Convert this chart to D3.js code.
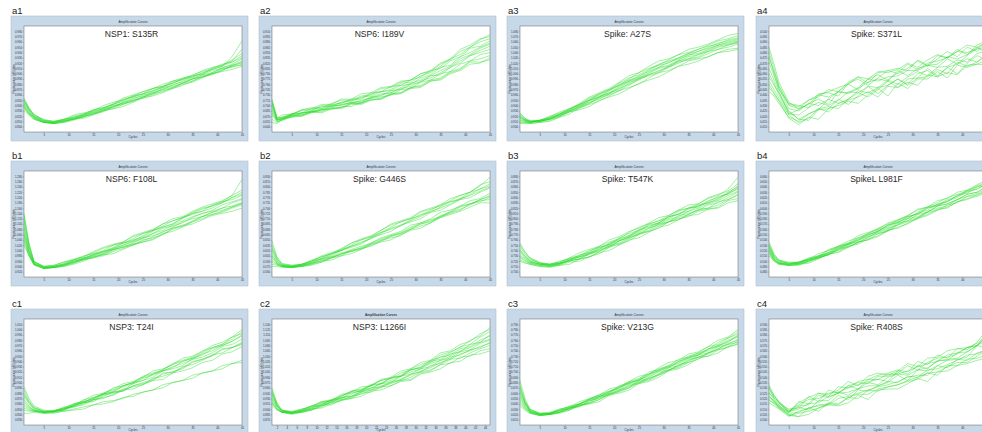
<!DOCTYPE html>
<html>
<head>
<meta charset="utf-8">
<script src="https://cdn.jsdelivr.net/npm/d3@7"></script>
<style>
  body { margin: 0; background: #ffffff; }
  svg { display: block; font-family: "Liberation Sans", Arial, sans-serif; }
</style>
</head>
<body>
<svg id="chart" width="982" height="432"></svg>
<script>
// Cycle numbers at which each well's fluorescence is listed
const cycles = [1, 2, 3, 5, 7, 9, 11, 13, 15, 17, 19, 21, 23, 25, 27, 29, 31, 33, 35, 37, 39, 41, 43, 45];

const panelIds = ["a1", "a2", "a3", "a4", "b1", "b2", "b3", "b4", "c1", "c2", "c3", "c4"];
const panelTitles = ["NSP1: S135R", "NSP6: I189V", "Spike: A27S", "Spike: S371L",
                     "NSP6: F108L", "Spike: G446S", "Spike: T547K", "SpikeL L981F",
                     "NSP3: T24I", "NSP3: L1266I", "Spike: V213G", "Spike: R408S"];

// Fluorescence per well (relative units, one string per well, one value per listed cycle)
const curvesA1 = [
  "31 22 16 11 9 11 14 16 20 22 26 29 33 36 39 43 46 50 52 56 59 62 66 72",
  "24 18 13 9 9 10 12 15 17 19 24 27 29 33 37 40 42 46 50 52 55 59 62 66",
  "28 21 15 11 10 12 14 16 21 23 26 30 34 36 39 42 47 49 52 55 59 62 71 86",
  "22 17 12 9 8 9 12 13 16 20 22 24 28 32 34 37 41 45 47 51 55 57 59 62",
  "30 21 15 10 9 12 13 17 19 22 27 32 35 38 41 45 48 50 54 57 60 64 66 70",
  "26 19 14 10 8 9 11 15 17 20 22 26 30 32 35 39 41 44 48 52 54 58 63 65",
  "29 22 17 11 10 12 16 18 20 25 28 30 34 38 41 43 48 51 53 58 61 63 68 74",
  "25 18 14 9 9 11 12 14 18 21 23 28 30 33 36 41 43 46 50 52 56 60 61 64",
  "32 23 16 12 10 11 15 17 21 23 26 31 33 36 41 43 46 50 53 55 60 63 67 78",
  "23 17 13 9 8 10 12 16 18 20 25 27 31 35 37 40 45 47 50 54 56 61 63 67",
  "27 20 14 10 9 10 13 15 19 22 24 28 32 34 38 42 44 48 51 54 58 60 64 69",
  "20 16 12 9 8 10 13 14 17 21 24 26 29 33 36 38 42 46 48 53 55 58 62 63"
];
const curvesA2 = [
  "30 13 14 17 20 21 24 25 28 30 31 36 38 40 46 47 53 56 62 69 73 80 85 88",
  "18 10 11 14 15 18 21 21 24 24 28 30 32 36 37 42 44 49 51 57 60 67 69 72",
  "26 13 16 17 21 23 23 27 30 30 34 35 41 42 47 49 55 57 64 68 76 80 87 92",
  "12 9 11 15 16 19 21 22 23 27 27 32 33 35 40 41 47 49 55 57 64 67 73 75",
  "31 14 13 17 18 20 25 24 28 29 33 34 38 39 44 45 51 54 61 63 71 75 80 84",
  "22 11 13 14 18 19 20 25 25 28 28 33 34 39 40 45 47 53 54 61 65 72 75 78",
  "9 8 12 17 18 22 22 26 27 31 32 37 38 43 44 49 52 58 60 67 71 79 81 86",
  "27 12 12 16 16 19 19 23 23 27 27 31 31 36 37 42 43 48 50 56 59 66 66 68",
  "20 11 14 16 21 22 26 26 31 31 36 37 42 43 48 49 55 58 65 69 78 82 88 90",
  "24 12 12 15 15 19 18 22 22 26 26 30 31 35 36 41 42 48 49 55 58 64 65 70",
  "16 10 12 15 17 20 21 23 26 27 30 32 35 37 41 43 48 51 56 61 67 72 77 81",
  "28 12 13 16 18 19 22 24 26 28 29 33 36 37 42 46 49 53 58 62 69 73 79 83"
];
const curvesA3 = [
  "16 12 10 11 13 17 22 26 30 36 40 44 50 56 60 63 68 73 75 78 82 86 88 91",
  "10 9 9 10 12 16 19 22 27 32 35 39 44 50 53 56 61 66 68 70 74 78 80 83",
  "14 12 10 11 15 18 21 26 32 36 40 46 51 54 59 64 67 70 74 78 81 83 87 89",
  "8 8 8 9 11 14 17 23 26 29 34 39 42 45 51 56 58 62 67 69 71 75 78 79",
  "17 13 10 10 13 16 21 26 30 33 39 45 49 52 58 63 65 70 74 76 80 84 86 88",
  "12 10 9 11 12 15 20 24 27 33 37 40 46 51 54 57 62 67 69 71 76 80 82 85",
  "15 11 9 11 14 19 22 27 33 37 41 47 53 56 62 67 69 73 78 80 83 87 91 93",
  "9 9 8 9 10 14 19 21 24 30 33 36 41 46 49 52 57 62 64 67 71 75 76 78",
  "13 11 10 10 13 16 20 24 30 34 37 43 48 51 56 61 63 68 73 74 78 82 84 86",
  "11 10 9 10 12 17 20 23 29 33 36 42 47 50 55 60 62 67 71 73 77 81 83 85",
  "14 11 10 10 12 15 19 25 28 31 36 41 45 49 54 58 61 65 69 73 76 78 82 84",
  "18 13 11 11 14 17 22 25 31 35 39 44 48 53 57 61 66 69 72 76 79 82 85 87"
];
const curvesA4 = [
  "80 64 47 28 22 30 33 40 38 47 52 46 56 58 60 58 68 63 72 70 78 73 82 86",
  "45 37 30 16 9 13 22 19 27 30 33 38 33 43 42 47 44 54 52 56 54 63 64 68",
  "66 53 41 22 20 27 25 31 38 36 41 47 50 48 58 53 60 63 64 71 69 73 80 76",
  "38 34 27 14 10 17 22 24 22 31 37 33 40 48 42 50 51 52 59 55 66 62 66 74",
  "72 55 40 27 25 23 35 33 38 45 40 50 54 49 56 64 59 65 67 70 76 75 78 86",
  "52 44 37 20 12 17 21 31 27 31 39 37 42 44 50 45 55 58 52 61 64 69 66 72",
  "60 49 38 17 21 27 31 26 38 37 42 50 48 52 53 58 58 63 61 69 64 72 79 76",
  "42 36 29 13 7 14 12 22 25 29 27 35 41 34 46 41 50 50 57 51 63 61 64 63",
  "76 60 43 25 22 26 36 37 34 46 50 44 51 58 55 60 67 62 69 76 71 80 76 85",
  "55 46 35 19 12 11 21 22 31 26 34 43 36 44 50 44 51 60 53 61 55 65 72 68",
  "70 57 44 26 24 30 35 38 42 45 52 50 57 56 59 65 61 68 73 70 76 82 80 85",
  "48 40 32 17 16 23 28 25 30 38 37 43 42 49 45 52 57 53 61 62 68 66 74 77"
];
const curvesB1 = [
  "60 32 15 9 10 13 16 20 22 25 30 32 36 41 44 48 53 56 60 64 67 71 77 92",
  "30 20 12 8 9 11 14 16 20 24 26 28 32 37 39 42 47 52 55 57 61 65 67 70",
  "52 28 14 10 11 14 16 19 23 27 30 33 38 41 44 50 53 56 61 65 67 70 75 80",
  "38 22 12 9 9 11 13 17 19 21 25 29 31 34 38 43 46 48 53 57 59 61 65 68",
  "48 26 13 9 10 12 16 18 21 24 28 32 35 38 43 47 50 55 60 62 65 70 75 78",
  "35 21 12 8 9 10 12 15 19 21 22 26 30 33 35 40 45 48 50 54 58 60 62 65",
  "55 30 14 10 11 14 17 19 24 28 31 33 39 42 45 50 55 57 62 66 69 72 77 82",
  "42 24 13 9 9 11 14 18 20 22 26 30 33 36 41 46 48 51 56 60 62 65 70 73",
  "58 31 15 10 10 12 15 17 22 24 27 32 34 39 44 47 50 56 59 62 68 71 73 77",
  "40 23 12 8 9 11 15 17 18 22 26 28 30 35 37 40 46 49 52 57 61 63 66 70",
  "46 25 13 9 10 12 14 17 21 23 27 30 34 37 41 44 49 53 57 60 63 68 71 74",
  "33 20 11 8 9 10 13 16 18 20 24 27 31 33 36 41 43 47 52 55 59 62 66 69"
];
const curvesB2 = [
  "30 18 12 10 12 15 19 22 25 30 35 38 42 47 52 55 58 63 68 71 74 80 86 94",
  "14 12 10 9 10 12 14 18 22 24 26 31 35 38 41 45 50 53 56 61 66 69 71 75",
  "26 16 11 10 12 16 19 22 27 32 35 38 44 49 52 55 61 64 67 72 77 80 83 88",
  "10 10 9 9 10 11 14 18 20 22 26 30 33 35 40 44 46 51 56 59 62 66 70 70",
  "24 15 11 10 11 14 17 21 26 29 32 37 42 45 48 54 59 61 66 71 73 78 83 86",
  "18 13 10 9 11 13 15 19 23 25 27 32 36 39 42 47 51 54 57 62 67 69 73 76",
  "28 17 12 11 12 15 20 23 26 32 36 39 44 50 53 56 62 65 68 74 77 80 87 90",
  "12 11 10 9 10 13 15 16 20 25 27 29 34 37 39 45 48 51 57 60 63 69 72 73",
  "21 14 11 10 11 15 17 20 25 28 31 37 40 43 49 52 55 61 63 68 73 75 80 84",
  "16 12 10 9 11 13 17 19 21 26 29 32 37 40 43 49 51 55 61 63 67 72 74 79",
  "34 19 13 11 12 14 18 22 25 29 33 36 41 46 49 53 57 62 65 69 74 77 81 85",
  "20 13 10 10 10 12 16 18 22 24 28 31 34 39 41 46 50 52 58 61 64 68 73 77"
];
const curvesB3 = [
  "28 22 17 13 12 14 18 20 24 29 33 36 42 47 50 53 58 63 65 69 74 77 83 94",
  "16 14 12 10 10 12 15 17 19 24 29 31 36 41 43 48 52 54 59 63 65 68 73 77",
  "25 20 16 13 12 15 17 20 25 28 31 37 41 44 50 53 56 62 65 67 72 75 79 86",
  "18 15 13 11 10 11 12 17 19 22 28 31 34 40 43 46 52 55 57 62 64 66 72 74",
  "30 23 18 13 11 13 17 19 23 26 32 35 39 45 48 51 57 59 64 68 70 73 79 83",
  "20 17 14 12 11 13 15 17 22 25 28 34 37 40 46 49 52 58 60 63 68 70 75 80",
  "24 19 15 12 12 14 18 23 26 29 35 38 43 46 51 56 58 63 68 69 75 78 81 88",
  "15 13 12 10 9 11 14 15 19 23 25 30 35 37 42 47 49 54 58 59 64 65 70 72",
  "26 20 15 12 11 12 16 21 23 28 30 36 39 43 49 51 57 59 65 66 71 76 78 84",
  "19 16 13 11 10 12 16 17 22 24 30 32 37 41 44 50 52 56 59 64 65 71 73 78",
  "22 18 14 12 11 13 15 19 21 26 29 34 38 42 46 50 54 57 62 65 69 72 77 81",
  "32 24 18 14 12 13 16 19 22 27 31 34 38 44 47 51 55 60 62 67 70 74 80 85"
];
const curvesB4 = [
  "30 20 15 13 14 17 22 25 29 34 37 41 46 50 53 58 63 66 70 75 78 81 86 90",
  "24 16 13 11 12 15 18 21 27 29 32 38 41 44 50 53 56 62 65 67 73 76 79 83",
  "28 19 14 12 14 17 19 25 28 31 37 40 43 49 52 55 61 66 68 73 76 82 85 89",
  "22 15 12 11 12 13 17 22 23 28 33 35 38 44 47 50 56 59 64 65 71 74 76 80",
  "29 19 15 13 13 17 20 23 29 32 35 41 45 48 54 57 59 65 68 71 77 80 83 88",
  "25 17 13 12 13 15 19 21 26 31 33 37 43 46 49 55 57 61 67 69 73 78 80 85",
  "31 21 16 13 14 18 20 26 29 32 39 42 45 51 54 58 64 66 72 74 80 82 87 92",
  "23 16 13 11 11 15 18 21 26 28 33 35 41 43 49 52 55 61 63 68 70 76 77 82",
  "27 18 14 12 13 16 20 22 28 31 34 40 43 49 51 57 60 63 69 71 77 79 85 87",
  "26 17 13 12 13 16 18 23 25 30 35 38 42 45 51 53 59 61 67 69 73 78 80 86",
  "33 22 16 14 14 16 19 23 27 31 36 39 44 47 52 56 60 65 67 72 75 81 83 88",
  "20 15 12 11 12 14 18 21 24 29 31 36 39 44 46 51 55 58 63 66 71 73 78 81"
];
const curvesC1 = [
  "30 22 16 13 13 16 20 22 25 30 33 37 40 45 48 52 57 60 63 68 73 76 81 88",
  "14 13 13 12 12 13 15 17 19 22 23 25 29 31 33 38 40 42 47 49 51 56 58 61",
  "27 20 15 12 13 16 18 21 26 29 31 37 40 42 48 51 54 60 63 66 72 75 79 85",
  "20 16 14 12 13 14 19 21 23 28 30 32 37 39 42 48 50 53 59 62 65 71 73 78",
  "33 23 17 13 12 15 18 24 26 29 35 37 40 46 49 52 58 61 64 70 73 76 83 90",
  "11 11 12 11 11 13 14 15 19 20 22 26 27 31 33 35 40 42 44 49 51 53 58 59",
  "24 18 14 12 14 15 20 22 24 29 31 33 39 42 45 51 53 56 62 64 68 74 76 81",
  "18 15 13 12 13 16 17 19 24 26 28 33 34 38 42 43 49 51 54 59 61 67 69 74",
  "28 21 16 13 13 17 19 23 28 30 34 39 41 45 51 53 57 63 65 69 75 78 83 86",
  "22 17 14 12 13 14 18 21 22 27 31 32 37 40 43 49 50 54 60 62 66 72 73 77",
  "36 25 18 14 13 15 18 22 25 29 32 36 39 44 47 51 55 58 62 67 70 75 79 84",
  "16 14 13 11 12 14 17 20 24 25 29 34 36 38 44 46 49 55 57 61 66 68 73 76"
];
const curvesC2 = [
  "33 20 14 12 14 18 21 23 27 32 34 37 42 44 47 53 57 60 66 69 73 80 84 92",
  "22 15 12 11 13 15 17 22 24 26 31 33 35 40 42 45 50 52 57 62 63 68 72 75",
  "30 19 13 12 15 17 22 24 27 32 33 38 42 44 49 52 55 61 64 68 74 76 83 88",
  "18 14 12 11 12 15 16 20 23 25 27 32 33 37 41 42 48 50 53 59 60 66 67 70",
  "29 18 13 12 14 16 21 23 28 30 32 37 39 44 46 52 54 59 64 66 72 74 80 84",
  "25 17 13 11 13 17 18 22 26 27 31 35 36 41 43 48 50 56 58 64 66 71 73 78",
  "35 21 14 13 15 18 22 23 29 31 36 37 43 45 51 53 59 61 68 70 76 79 86 90",
  "20 15 12 10 12 14 19 19 24 25 30 31 36 37 42 43 49 51 57 58 64 65 70 72",
  "27 18 13 12 14 18 19 24 25 31 32 38 39 45 46 52 54 60 62 67 69 76 78 85",
  "24 16 12 11 13 15 20 21 26 27 32 34 39 40 46 48 53 55 61 63 69 71 77 80",
  "31 19 14 12 13 16 19 23 25 29 33 35 39 42 46 50 53 58 61 65 70 73 78 81",
  "21 15 12 11 12 14 18 21 23 27 29 33 37 39 43 47 51 54 59 62 67 70 74 77"
];
const curvesC3 = [
  "36 22 14 10 11 14 18 20 24 29 32 35 41 44 48 53 56 60 65 68 71 78 82 88",
  "24 17 12 9 10 12 15 19 21 24 29 32 35 41 43 48 52 55 61 64 67 72 76 78",
  "32 21 13 10 11 14 16 19 24 27 30 36 39 42 48 51 54 60 63 66 72 75 78 85",
  "20 15 11 9 10 11 14 18 20 22 28 30 33 39 41 45 51 53 57 63 65 68 74 76",
  "34 21 14 11 12 15 17 20 25 28 31 37 40 43 50 52 56 62 64 68 74 76 82 86",
  "28 19 13 10 11 13 17 18 22 27 29 33 38 40 45 50 52 56 62 64 68 74 76 81",
  "38 23 15 11 11 15 17 22 25 28 34 36 41 46 48 54 59 61 67 69 74 80 83 90",
  "22 16 12 9 10 12 14 19 20 24 29 31 35 40 42 47 52 54 59 64 65 71 73 77",
  "30 20 13 10 11 14 15 20 23 26 32 34 40 42 47 52 55 59 64 66 72 74 79 83",
  "26 18 12 10 10 12 16 17 23 25 30 33 36 42 44 48 54 56 60 66 68 72 77 80",
  "42 25 15 11 11 13 16 20 24 27 31 35 39 43 46 51 55 58 63 67 70 75 80 84",
  "18 14 11 9 10 12 16 18 21 26 28 32 37 39 44 47 51 57 59 62 68 71 74 79"
];
const curvesC4 = [
  "38 28 21 12 22 20 30 27 36 35 41 43 47 49 52 50 60 57 66 63 72 71 78 90",
  "24 20 16 9 8 16 13 21 20 26 25 33 32 36 38 41 43 49 47 56 56 62 63 66",
  "33 27 22 13 18 19 28 26 30 37 34 43 43 41 51 48 56 53 61 61 68 69 75 80",
  "21 18 15 8 13 16 19 20 28 24 33 32 37 41 40 46 45 52 53 57 61 66 67 71",
  "36 25 20 15 16 27 22 33 30 37 40 39 46 46 49 56 52 59 63 64 67 73 75 86",
  "27 23 17 12 17 14 23 23 31 28 34 37 37 40 47 42 52 51 56 61 62 64 75 72",
  "30 26 21 12 21 26 30 29 33 41 37 46 49 47 51 58 55 63 64 70 72 73 77 85",
  "23 21 16 10 8 10 16 19 18 21 28 24 33 34 34 39 44 41 50 51 56 58 61 63",
  "35 28 22 14 19 24 25 30 31 35 38 41 43 48 48 51 55 58 60 66 68 73 75 83",
  "28 22 17 11 12 16 18 19 25 27 30 33 36 38 41 45 47 47 56 54 62 61 68 71",
  "31 24 18 13 15 20 21 27 30 31 34 40 38 45 48 47 52 54 60 62 63 69 75 83",
  "26 22 19 9 11 13 16 20 19 26 29 29 34 36 38 42 45 49 50 55 59 59 65 71"
];

// Axis tick values and label settings
const xTicks = [5, 10, 15, 20, 25, 30, 35, 40, 45];
const xTicksEven = [2, 4, 6, 8, 10, 12, 14, 16, 18, 20, 22, 24, 26, 28, 30, 32, 34, 36, 38, 40, 42, 44];
const yTicks = [5, 10, 15, 20, 25, 30, 35, 40, 45, 50, 55, 60, 65, 70, 75, 80, 85, 90, 95];
const yLabelStart = [0.800, 0.640, 0.900, 0.410, 0.920, 0.560, 0.700, 0.480, 0.830, 0.870, 0.610, 0.500];
const yLabelStep  = [0.010, 0.015, 0.010, 0.005, 0.020, 0.015, 0.010, 0.010, 0.010, 0.015, 0.010, 0.005];

const panelCurves = [curvesA1, curvesA2, curvesA3, curvesA4, curvesB1, curvesB2,
                     curvesB3, curvesB4, curvesC1, curvesC2, curvesC3, curvesC4];

const width = 982;
const svg = d3.select("#chart");
const colLeft = [11, 259, 507, 756];
const rowTop = [16, 161, 309];
const frameW = 237, frameH = 125;
const box = { left: 13, right: 231, top: 10, bottom: 116 };

panelIds.forEach((id, p) => {
  const col = p % 4, row = Math.floor(p / 4);
  const gx = colLeft[col], gy = rowTop[row];
  const g = svg.append("g").attr("transform", `translate(${gx},${gy})`);

  // panel tag above the frame
  g.append("text").attr("x", 1).attr("y", -2)
    .attr("font-size", 9.5).attr("fill", "#222").text(id);

  // blue window frame
  g.append("rect").attr("width", frameW).attr("height", frameH)
    .attr("fill", "#c7d8e9").attr("stroke", "#aebfd0").attr("stroke-width", 0.6);

  g.append("text").attr("x", (box.left + box.right) / 2).attr("y", 7)
    .attr("text-anchor", "middle").attr("font-size", 3.2).attr("fill", "#333")
    .attr("font-weight", p === 9 ? "bold" : "normal")
    .text("Amplification Curves");

  // white plot area
  g.append("rect").attr("x", box.left).attr("y", box.top)
    .attr("width", box.right - box.left).attr("height", box.bottom - box.top)
    .attr("fill", "#ffffff").attr("stroke", "#666").attr("stroke-width", 0.5);

  const x = d3.scaleLinear().domain([1, 45]).range([box.left, box.right]);
  const y = d3.scaleLinear().domain([0, 100]).range([box.bottom, box.top]);

  const yAxis = d3.axisLeft(y).tickValues(yTicks).tickSize(1.2).tickPadding(0.8)
    .tickFormat((d, i) => (yLabelStart[p] + yLabelStep[p] * i).toFixed(3));
  const ya = g.append("g").attr("transform", `translate(${box.left},0)`).call(yAxis);
  ya.select(".domain").remove();
  ya.selectAll("text").attr("font-size", 2.8).attr("fill", "#333");
  ya.selectAll("line").attr("stroke", "#666").attr("stroke-width", 0.3);

  // x ticks that fall inside the page width
  const xt = (p === 9 ? xTicksEven : xTicks).filter(t => gx + x(t) + 3 < width);
  const xAxis = d3.axisBottom(x).tickValues(xt).tickSize(1.2).tickPadding(0.8);
  const xa = g.append("g").attr("transform", `translate(0,${box.bottom})`).call(xAxis);
  xa.select(".domain").remove();
  xa.selectAll("text").attr("font-size", 2.8).attr("fill", "#333");
  xa.selectAll("line").attr("stroke", "#666").attr("stroke-width", 0.3);

  g.append("text").attr("x", (box.left + box.right) / 2).attr("y", box.bottom + 6)
    .attr("text-anchor", "middle").attr("font-size", 3).attr("fill", "#333").text("Cycles");

  g.append("text")
    .attr("transform", `translate(4,${(box.top + box.bottom) / 2}) rotate(-90)`)
    .attr("text-anchor", "middle").attr("font-size", 2.8).attr("fill", "#333")
    .text("Fluorescence (dR) data");

  const clipId = "clip-" + id;
  g.append("clipPath").attr("id", clipId).append("rect")
    .attr("x", box.left).attr("y", box.top)
    .attr("width", box.right - box.left).attr("height", box.bottom - box.top);

  const line = d3.line().x((d, i) => x(cycles[i])).y(d => y(d));
  g.append("g").attr("clip-path", `url(#${clipId})`)
    .selectAll("path").data(panelCurves[p].map(s => s.split(" ").map(Number)))
    .join("path")
    .attr("d", line)
    .attr("fill", "none")
    .attr("stroke", "#22d822")
    .attr("stroke-opacity", 0.6)
    .attr("stroke-width", 0.7);

  g.append("text").attr("x", frameW / 2 + 2).attr("y", 21)
    .attr("text-anchor", "middle").attr("font-size", 8.6).attr("fill", "#2a2a2a")
    .text(panelTitles[p]);
});
</script>
</body>
</html>
